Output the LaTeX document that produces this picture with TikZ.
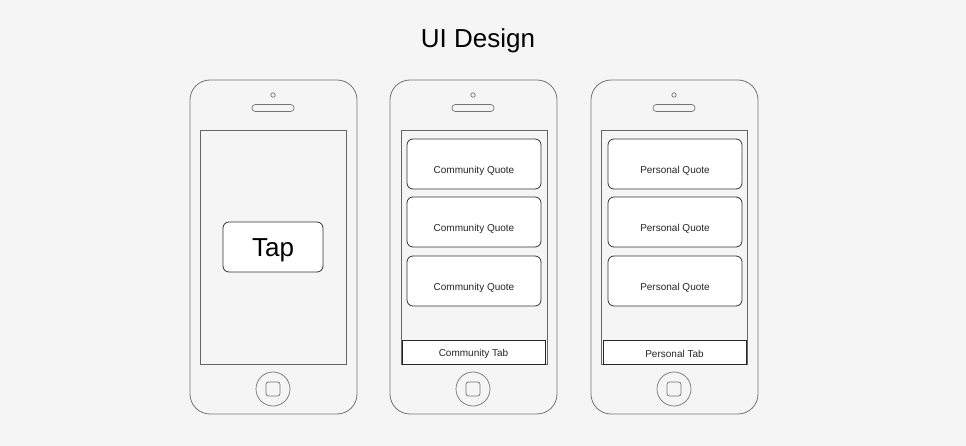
\documentclass[tikz,border=0pt]{standalone}
\usepackage{fontspec}
\setmainfont{Liberation Sans}
\begin{document}
\begin{tikzpicture}[x=1pt,y=-1pt,
  phonebody/.style={draw=black!55, line width=0.8pt, rounded corners=20pt},
  screen/.style={draw=black!60, line width=0.8pt},
  quotebox/.style={draw=black!80, fill=white, line width=0.8pt, rounded corners=6pt,
                   minimum width=134pt, minimum height=50pt},
  tabbox/.style={draw=black!85, fill=white, line width=0.8pt,
                 minimum width=143pt, minimum height=24pt},
  smalltext/.style={font=\fontsize{10pt}{12pt}\selectfont, text=black!85},
  phoneline/.style={draw=black!55, line width=0.7pt}]
  \fill[black!4] (0,0) rectangle (966,446);
  \useasboundingbox (0,0) rectangle (966,446);

  \node[font=\fontsize{26pt}{30pt}\selectfont] (title) at (478,41) {UI Design};

  % three phone frames: body, camera, speaker, home button
  \foreach \x in {190, 390, 591}{
    \draw[phonebody] (\x,80) rectangle ++(167,334);
    \draw[phoneline] (\x+83,95) circle (2.2);
    \draw[phoneline, rounded corners=3.3pt] (\x+62,104.5) rectangle ++(42,7);
    \draw[phoneline] (\x+83,389) circle (17);
    \draw[phoneline, rounded corners=2.5pt] (\x+76,382) rectangle ++(14,14);
  }
  \draw[screen] (200,130) rectangle (346,364);
  \draw[screen] (401,130) rectangle (547,364);
  \draw[screen] (601,130) rectangle (747,364);

  % start screen
  \node[quotebox, minimum width=100pt] (tap) at (273,247) {};
  \node[font=\fontsize{26pt}{30pt}\selectfont] (tapt) at ([yshift=-3pt]tap.center) {Tap};

  % community screen
  \node[quotebox] (c1) at (474,164) {};
  \node[quotebox] (c2) at (474,222) {};
  \node[quotebox] (c3) at (474,281) {};
  \node[tabbox] (ctab) at (473.5,352) {};
  \node[smalltext] (ctabt) at ([yshift=-2pt]ctab.center) {Community Tab};
  \foreach \b in {c1,c2,c3}
    \node[smalltext] (\b t) at ([yshift=-7pt]\b.center) {Community Quote};

  % personal screen
  \node[quotebox] (q1) at (675,164) {};
  \node[quotebox] (q2) at (675,222) {};
  \node[quotebox] (q3) at (675,281) {};
  \node[tabbox] (ptab) at (674.5,352) {};
  \node[smalltext] (ptabt) at ([yshift=-2pt]ptab.center) {Personal Tab};
  \foreach \b in {q1,q2,q3}
    \node[smalltext] (\b t) at ([yshift=-7pt]\b.center) {Personal Quote};
\end{tikzpicture}
\end{document}
